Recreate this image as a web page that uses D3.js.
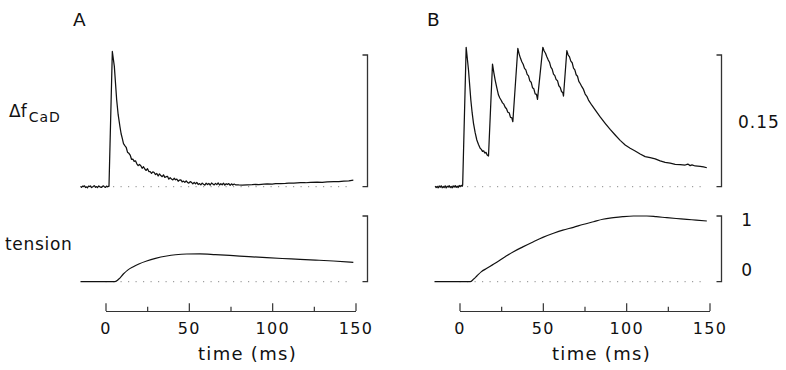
<!DOCTYPE html>
<html>
<head>
<meta charset="utf-8">
<script src="https://cdn.jsdelivr.net/npm/d3@7"></script>
<style>
  body { margin: 0; background: #fff; }
  svg { display: block; font-family: 'DejaVu Sans', sans-serif; }
  text { fill: #111; }
</style>
</head>
<body>
<svg width="786" height="370"></svg>
<script>
const svg = d3.select('svg');

// calcium signal, panel A (single twitch) - [time ms, delta f]
const caA = [
  [-15, 0.0004], [-14.4, -0.0008], [-13.8, 0.0006], [-13.2, 0.0001], [-12.6, 0.0010], [-12, -0.0009],
  [-11.4, -0.0002], [-10.8, -0.0012], [-10.2, 0.0007], [-9.6, 0.0002], [-9, 0.0009], [-8.4, -0.0010],
  [-7.8, -0.0003], [-7.2, 0.0006], [-6.6, 0.0011], [-6, -0.0007], [-5.4, 0.0001], [-4.8, -0.0011],
  [-4.2, 0.0008], [-3.6, 0.0003], [-3, -0.0006], [-2.4, -0.0009], [-1.8, 0.0005], [-1.2, 0.0010],
  [-0.6, -0.0003], [0, -0.0008], [0.6, 0.0007], [1.2, -0.0002], [1.8, 0.0006], [2.1, 0.0005],
  [4.1, 0.154], [5.3, 0.137], [6.7, 0.099], [7.6, 0.082], [8.7, 0.068], [9.4, 0.060],
  [10.0, 0.0555], [10.8, 0.0490], [11.6, 0.0469], [12.4, 0.0449], [13.2, 0.0393], [14.0, 0.0381],
  [14.8, 0.0361], [15.6, 0.0312], [16.4, 0.0315], [17.2, 0.0288], [18.0, 0.0295], [18.8, 0.0260],
  [19.6, 0.0240], [20.4, 0.0253], [21.2, 0.0239], [22.0, 0.0210], [22.8, 0.0227], [23.6, 0.0201],
  [24.4, 0.0185], [25.2, 0.0205], [26.0, 0.0173], [26.8, 0.0173], [27.6, 0.0151], [28.4, 0.0170],
  [29.2, 0.0162], [30.0, 0.0138], [30.8, 0.0150], [31.6, 0.0122], [32.4, 0.0145], [33.2, 0.0127],
  [34.0, 0.0114], [34.8, 0.0135], [35.6, 0.0106], [36.4, 0.0114], [37.2, 0.0118], [38.0, 0.0086],
  [38.8, 0.0103], [39.6, 0.0087], [40.4, 0.0077], [41.2, 0.0096], [42.0, 0.0079], [42.8, 0.0087],
  [43.6, 0.0062], [44.4, 0.0076], [45.2, 0.0079], [46.0, 0.0055], [46.8, 0.0064], [47.6, 0.0049],
  [48.4, 0.0067], [49.2, 0.0049], [50.0, 0.0040], [50.8, 0.0058], [51.6, 0.0049], [52.4, 0.0032],
  [53.2, 0.0050], [54.0, 0.0033], [54.8, 0.0049], [55.6, 0.0025], [56.4, 0.0035], [57.2, 0.0022],
  [58.0, 0.0041], [58.8, 0.0027], [59.6, 0.0018], [60.4, 0.0040], [61.2, 0.0025], [62.0, 0.0037],
  [62.8, 0.0017], [63.6, 0.0042], [64.4, 0.0031], [65.2, 0.0020], [66.0, 0.0038], [66.8, 0.0024],
  [67.6, 0.0043], [68.4, 0.0019], [69.2, 0.0034], [70.0, 0.0022], [70.8, 0.0040], [71.6, 0.0017],
  [72.4, 0.0034], [73.2, 0.0024], [74.0, 0.0036], [74.8, 0.0016], [75.6, 0.0033], [76.4, 0.0019],
  [77.2, 0.0030], [78.0, 0.0022],
  [80, 0.0020], [82, 0.0019], [85, 0.0022], [88, 0.0023], [90, 0.0026], [92, 0.0025], [95, 0.0029],
  [97, 0.0031], [100, 0.0030], [102, 0.0034], [105, 0.0036], [108, 0.0037], [110, 0.0040], [113, 0.0041],
  [117, 0.0046], [120, 0.0045], [123, 0.0049], [127, 0.0051], [130, 0.0050], [133, 0.0055], [137, 0.0057],
  [140, 0.0058], [143, 0.0064], [146, 0.0066], [148.7, 0.0076]
];

// calcium signal, panel B (5 stimuli)
const caB = [
  [-14.6, 0.0006], [-14, -0.0010], [-13.4, 0.0004], [-12.8, -0.0013], [-12.2, 0.0008], [-11.6, -0.0006],
  [-11, 0.0011], [-10.4, -0.0012], [-9.8, 0.0002], [-9.2, -0.0009], [-8.6, 0.0010], [-8, -0.0014],
  [-7.4, 0.0005], [-6.8, -0.0004], [-6.2, 0.0012], [-5.6, -0.0010], [-5, 0.0003], [-4.4, -0.0013],
  [-3.8, 0.0009], [-3.2, -0.0005], [-2.6, 0.0013], [-2, -0.0008], [-1.4, 0.0006], [-0.8, -0.0010],
  [-0.2, 0.0014], [0.4, 0.0002], [1, 0.0016], [1.6, 0.0005], [1.9, 0.0020],
  [4.0, 0.1588], [5.4, 0.1329], [6.8, 0.0987], [7.6, 0.0840], [8.4, 0.0722], [9.4, 0.0615], [10.4, 0.0532],
  [11.4, 0.0480], [12.4, 0.0437], [13.1, 0.0425], [13.8, 0.0402], [14.5, 0.0408], [15.2, 0.0383],
  [15.9, 0.0391], [16.6, 0.0362], [17.4, 0.0350],
  [19.8, 0.1397], [20.6, 0.1300], [21.4, 0.1215], [22.4, 0.1125], [23.4, 0.1044], [24.2, 0.1010],
  [25.0, 0.0985], [25.8, 0.0955], [26.6, 0.0940], [27.4, 0.0905], [28.2, 0.0888], [29.0, 0.0848],
  [29.8, 0.0842], [30.6, 0.0790], [31.4, 0.0785], [32.0, 0.0740],
  [35.0, 0.1576], [35.8, 0.1510], [36.6, 0.1462], [37.4, 0.1424], [38.2, 0.1395], [39.0, 0.1348],
  [39.8, 0.1330], [40.6, 0.1280], [41.4, 0.1262], [42.2, 0.1205], [43.0, 0.1190], [43.8, 0.1128],
  [44.6, 0.1115], [45.4, 0.1058], [46.2, 0.1052], [46.8, 0.0995],
  [50.0, 0.1588], [50.8, 0.1545], [51.6, 0.1520], [52.4, 0.1480], [53.2, 0.1445], [54.0, 0.1418],
  [54.8, 0.1362], [55.6, 0.1340], [56.4, 0.1282], [57.2, 0.1265], [58.0, 0.1220], [58.8, 0.1208],
  [59.6, 0.1150], [60.4, 0.1132], [61.2, 0.1085], [62.0, 0.1070], [62.4, 0.1033],
  [64.4, 0.1549], [65.2, 0.1500], [66.0, 0.1478], [66.8, 0.1430], [67.6, 0.1412], [68.4, 0.1350],
  [69.2, 0.1330], [70.0, 0.1275], [70.8, 0.1258], [71.6, 0.1200], [72.4, 0.1175], [73.4, 0.1139],
  [74.4, 0.1108], [75.4, 0.1055], [76.4, 0.1030], [77.4, 0.0987],
  [79.4, 0.0928], [81.4, 0.0874], [84.4, 0.0795], [87.4, 0.0722], [90.4, 0.0652], [93.4, 0.0589],
  [96.4, 0.0528], [99.4, 0.0475], [102.4, 0.0438], [105.4, 0.0407], [108.4, 0.0372], [111.4, 0.0342],
  [114.4, 0.0330], [117.4, 0.0316], [120.4, 0.0294], [123.4, 0.0278], [126.4, 0.0268], [129.4, 0.0255],
  [132.4, 0.0252], [135.4, 0.0247], [137, 0.0258], [138.4, 0.0240], [139.5, 0.0248], [141.4, 0.0236],
  [144.4, 0.0232], [146.4, 0.0225], [148.4, 0.0216]
];

// normalised tension
const tensionA = [
  [-15, 0], [5.7, 0], [8, 0.04], [10.7, 0.117], [13.5, 0.18], [16.7, 0.228], [20, 0.27], [24.7, 0.315],
  [30, 0.355], [36.7, 0.391], [42, 0.41], [48.7, 0.422], [56.7, 0.424], [66, 0.412], [76.7, 0.396],
  [86, 0.381], [96.7, 0.365], [106, 0.353], [116.7, 0.341], [126, 0.329], [136.7, 0.315], [148.7, 0.295]
];
const tensionB = [
  [-15, 0], [6.4, 0], [8.5, 0.04], [10.4, 0.087], [13, 0.15], [16.4, 0.204], [20, 0.26], [24.4, 0.33],
  [28, 0.39], [32.4, 0.457], [38, 0.53], [44.4, 0.609], [50, 0.675], [56.4, 0.737], [62, 0.785],
  [68.4, 0.828], [74, 0.87], [80.4, 0.913], [86, 0.95], [92.4, 0.974], [98, 0.99], [104.4, 1.0],
  [112.4, 1.0], [118, 0.99], [124.4, 0.974], [130, 0.962], [136.4, 0.95], [142, 0.937], [148.4, 0.924]
];

const majorTicks = [0, 50, 100, 150];
const minorTicks = [25, 75, 125];
const caBar = [0, 0.15];
const tensionBar = [0, 1];

// one column (A or B)
const panel = (selection, props) => {
    const { left, label, ca, tension } = props;

    const xScale = d3.scaleLinear().domain([0, 150]).range([left, left + 250]);
    const yCa = d3.scaleLinear().domain([0, 0.15]).range([186.7, 55]);
    const yT = d3.scaleLinear().domain([0, 1]).range([281.7, 216]);

    const g = selection.append('g');

    g.append('text')
        .attr('x', left - 32.5)
        .attr('y', 25.5)
        .style('font-size', '18.5px')
        .text(label);

    // dotted zero lines
    [yCa, yT].forEach(y => {
        g.append('line')
            .attr('x1', xScale(0)).attr('x2', xScale(146))
            .attr('y1', y(0)).attr('y2', y(0))
            .attr('stroke', '#888')
            .attr('stroke-width', 1)
            .attr('stroke-dasharray', '1.2 6.3');
    });

    const caLine = d3.line().x(d => xScale(d[0])).y(d => yCa(d[1]));
    const tLine = d3.line().x(d => xScale(d[0])).y(d => yT(d[1])).curve(d3.curveMonotoneX);

    g.append('path')
        .attr('d', caLine(ca))
        .attr('fill', 'none')
        .attr('stroke', '#111')
        .attr('stroke-width', 1.25)
        .attr('stroke-linejoin', 'round');

    g.append('path')
        .attr('d', tLine(tension))
        .attr('fill', 'none')
        .attr('stroke', '#111')
        .attr('stroke-width', 1.2);

    // scale brackets on the right
    const bracket = (y, bar) => {
        const bx = xScale(157.2);
        g.append('path')
            .attr('d', `M${bx - 5},${y(bar[1])}H${bx}V${y(bar[0])}H${bx - 5}`)
            .attr('fill', 'none')
            .attr('stroke', '#333')
            .attr('stroke-width', 1.3);
    };
    bracket(yCa, caBar);
    bracket(yT, tensionBar);

    // time axis, ticks pointing up
    const axisG = g.append('g').attr('transform', 'translate(0, 311)');
    axisG.append('g')
        .call(d3.axisBottom(xScale).tickValues(majorTicks).tickSize(-7.7).tickSizeOuter(0).tickPadding(12))
        .call(a => a.selectAll('text').style('font-size', '16px').style('letter-spacing', '1.3px'));
    axisG.append('g')
        .call(d3.axisBottom(xScale).tickValues(minorTicks).tickSize(-4.3).tickSizeOuter(0).tickFormat(''))
        .call(a => a.select('.domain').remove());
    axisG.selectAll('path, line').attr('stroke', '#333').attr('stroke-width', 1.2);
    axisG.selectAll('text').attr('fill', '#111').attr('font-family', "'DejaVu Sans', sans-serif");

    g.append('text')
        .attr('x', xScale(85.2))
        .attr('y', 360)
        .attr('text-anchor', 'middle')
        .style('font-size', '18px')
        .style('letter-spacing', '1.3px')
        .text('time (ms)');
};

svg.call(panel, { left: 105.5, label: 'A', ca: caA, tension: tensionA });
svg.call(panel, { left: 459.5, label: 'B', ca: caB, tension: tensionB });

// row labels
const dfLabel = svg.append('text')
    .attr('x', 9)
    .attr('y', 117.3)
    .style('font-size', '17px');
dfLabel.append('tspan').text('\u0394f');
dfLabel.append('tspan').attr('dy', 4.4).attr('dx', 2).style('font-size', '14px').style('letter-spacing', '1px').text('CaD');

svg.append('text')
    .attr('x', 5)
    .attr('y', 250)
    .style('font-size', '17px')
    .style('letter-spacing', '0.7px')
    .text('tension');

// scale values
svg.append('text').attr('x', 738).attr('y', 128.3).style('font-size', '17px').style('letter-spacing', '1px').text('0.15');
svg.append('text').attr('x', 746.7).attr('y', 225.5).attr('text-anchor', 'middle').style('font-size', '17px').text('1');
svg.append('text').attr('x', 746.7).attr('y', 275.5).attr('text-anchor', 'middle').style('font-size', '17px').text('0');
</script>
</body>
</html>
